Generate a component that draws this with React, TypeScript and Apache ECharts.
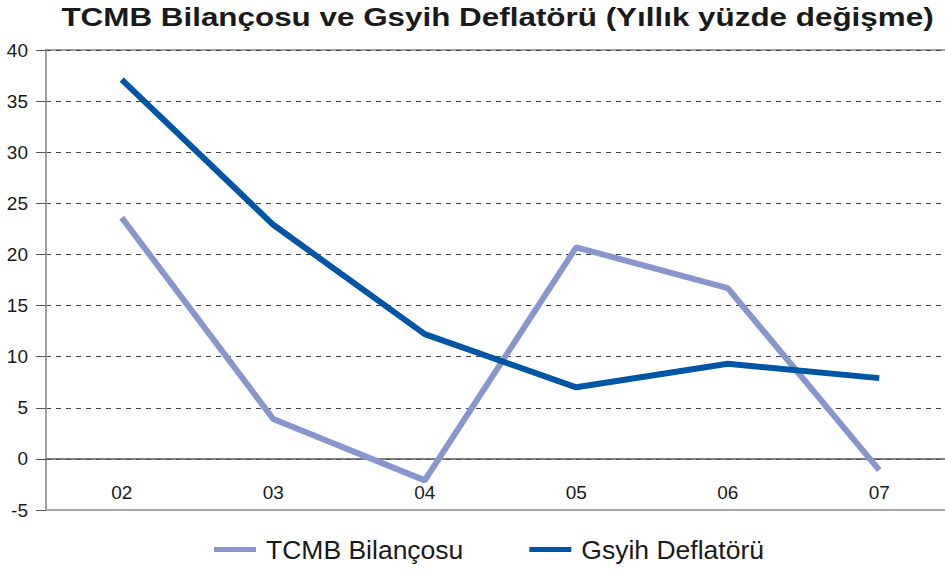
import React, { useEffect, useRef } from "react";
import * as echarts from "echarts";

const categories = ["02", "03", "04", "05", "06", "07"];
const tcmbValues = [23.6, 3.9, -2.1, 20.7, 16.7, -1.1];
const gsyihValues = [37.1, 22.9, 12.2, 7.0, 9.3, 7.9];
const seriesNames = ["TCMB Bilançosu", "Gsyih Deflatörü"];
const titleText = "TCMB Bilançosu ve Gsyih Deflatörü (Yıllık yüzde değişme)";

export default function App() {
  const ref = useRef<HTMLDivElement>(null);
  useEffect(() => {
    if (!ref.current) return;
    const chart = echarts.init(ref.current, null, { renderer: "svg" });
    const font = "'Liberation Sans', Arial, Helvetica, sans-serif";
    chart.setOption({
      animation: false,
      backgroundColor: "#ffffff",
      textStyle: { fontFamily: font },
      graphic: [
        {
          type: "text",
          x: 497.5,
          y: 16.5,
          scaleX: 1.185,
          style: {
            text: titleText,
            font: "bold 26.5px 'Liberation Sans', Arial, sans-serif",
            fill: "#1a1a1a",
            align: "center",
            verticalAlign: "middle",
          },
        },
      ],
      legend: {
        left: 209,
        top: 531,
        itemWidth: 42,
        itemHeight: 5,
        itemGap: 66,
        icon: "rect",
        textStyle: { fontSize: 26.5, color: "#1a1a1a", fontFamily: font, padding: [0, 0, 0, 5] },
        data: seriesNames,
      },
      grid: {
        left: 46,
        top: 50,
        width: 909,
        height: 460,
        show: true,
        borderColor: "#a0a0a0",
        borderWidth: 2,
        backgroundColor: "transparent",
      },
      xAxis: {
        type: "category",
        data: categories,
        boundaryGap: true,
        axisLine: { onZero: false, lineStyle: { color: "#a8a8a8", width: 2 } },
        axisTick: { show: false },
        axisLabel: { inside: true, margin: 8, fontSize: 19, color: "#1a1a1a", fontFamily: font },
        splitLine: { show: false },
      },
      yAxis: {
        type: "value",
        min: -5,
        max: 40,
        interval: 5,
        axisLine: { show: true, lineStyle: { color: "#a0a0a0", width: 2 } },
        axisTick: { show: true, length: 10, lineStyle: { color: "#555", width: 1 } },
        axisLabel: { margin: 18, fontSize: 19, color: "#1a1a1a", fontFamily: font },
        splitLine: { show: true, lineStyle: { color: "#444", type: [5, 5], width: 1 } },
      },
      series: [
        {
          name: seriesNames[0],
          type: "line",
          data: tcmbValues,
          symbol: "none",
          lineStyle: { color: "#8796cc", width: 6 },
          itemStyle: { color: "#8796cc" },
          z: 3,
          markLine: {
            silent: true,
            symbol: "none",
            label: { show: false },
            lineStyle: { color: "#555", type: "solid", width: 1.5 },
            data: [{ yAxis: 0 }],
            z: 1,
          },
        },
        {
          name: seriesNames[1],
          type: "line",
          data: gsyihValues,
          symbol: "none",
          lineStyle: { color: "#0055a4", width: 6 },
          itemStyle: { color: "#0055a4" },
          z: 4,
        },
      ],
    });
    return () => chart.dispose();
  }, []);
  return (
    <div style={{ position: "absolute", left: 0, top: 0, width: 945, height: 569, overflow: "hidden" }}>
      <div ref={ref} style={{ width: 965, height: 569 }} />
    </div>
  );
}
